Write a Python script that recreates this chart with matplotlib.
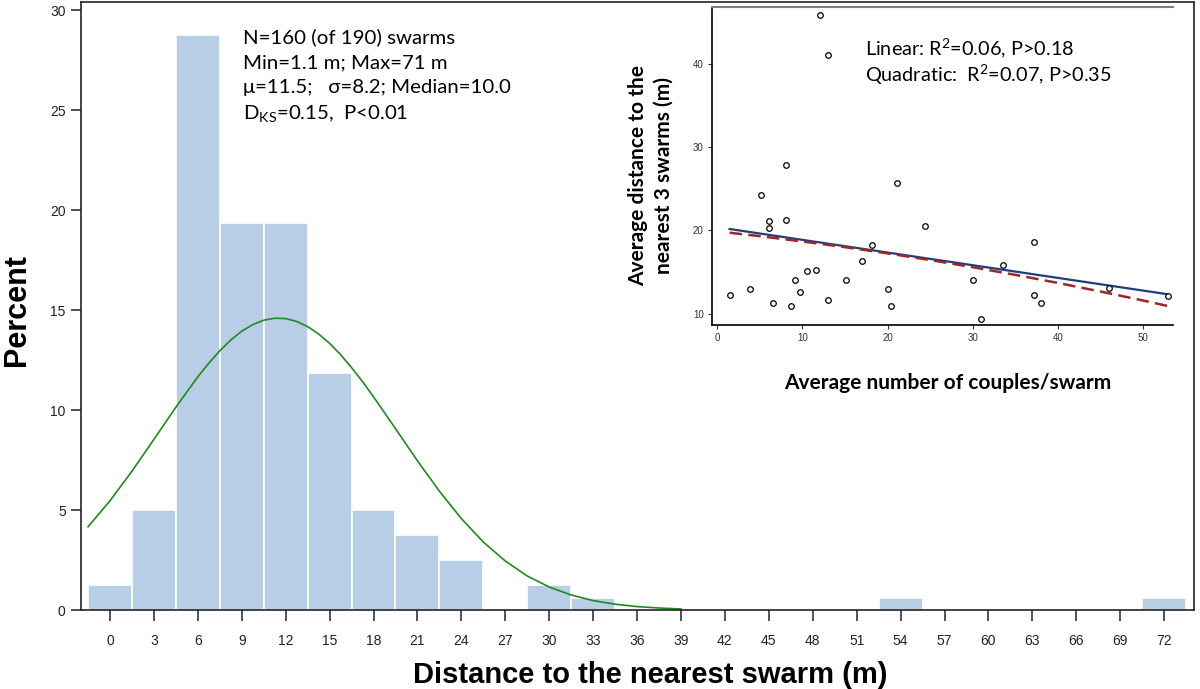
import numpy as np
import matplotlib.pyplot as plt

plt.rcParams['font.family'] = ['Liberation Sans', 'DejaVu Sans']
plt.rcParams['mathtext.fontset'] = 'custom'
plt.rcParams['mathtext.rm'] = 'Lato'
plt.rcParams['mathtext.it'] = 'Lato:italic'

# histogram: distance to the nearest swarm (percent of 160 swarms, 3 m bins)
bin_centers = [0, 3, 6, 9, 12, 15, 18, 21, 24, 30, 33, 54, 72]
percent = [1.25, 5.0, 28.75, 19.375, 19.375, 11.875, 5.0, 3.75, 2.5, 1.25, 0.625, 0.625, 0.625]
x_ticks = list(range(0, 73, 3))
y_ticks = [0, 5, 10, 15, 20, 25, 30]

# fitted normal curve
curve_x = [-1.5, 0, 1.5, 3, 4.5, 6, 6.75, 7.5, 8.25, 9, 9.75, 10.5, 11.25, 12, 12.75,
           13.5, 14.25, 15, 15.75, 16.5, 17.25, 18, 19.5,
           21, 22.5, 24, 25.5, 27, 28.5, 30, 31.5, 33, 34.5, 36, 37.5, 39]
curve_y = [4.16, 5.46, 6.94, 8.53, 10.14, 11.66, 12.34, 12.96, 13.50, 13.94, 14.27,
           14.49, 14.59, 14.57, 14.43, 14.17, 13.80, 13.33, 12.77, 12.12, 11.42,
           10.66, 9.07, 7.46, 5.94, 4.57, 3.40, 2.45, 1.70, 1.15,
           0.75, 0.47, 0.29, 0.17, 0.10, 0.05]

# inset: couples per swarm vs distance to the nearest 3 swarms
couples = [12.05, 13.04, 8.07, 21.1, 5.1, 6.07, 8.03, 6.07, 24.37, 18.2, 17.0,
           10.5, 11.6, 9.1, 15.1, 3.84, 20.0, 9.76, 1.45, 13.04, 6.58, 8.62, 20.4,
           37.2, 33.5, 30.05, 46.0, 37.2, 52.9, 37.96, 30.99]
dist3 = [45.9, 41.1, 27.8, 25.7, 24.2, 21.1, 21.2, 20.3, 20.5, 18.2, 16.3,
         15.1, 15.3, 14.05, 14.05, 12.97, 12.97, 12.64, 12.24, 11.68, 11.28, 10.96, 10.89,
         18.6, 15.9, 14.1, 13.1, 12.24, 12.16, 11.28, 9.36]
lin_x = [1.45, 52.9]
lin_y = [20.17, 12.33]
quad_x = [1.45, 5, 10, 15, 20, 25, 30, 35, 40, 45, 50, 52.9]
quad_y = [19.72, 19.31, 18.67, 17.99, 17.24, 16.44, 15.58, 14.66, 13.69, 12.66, 11.58, 10.92]

W, H = 1200, 689
fig = plt.figure(figsize=(12, 6.89), dpi=100)


def fx(px):
    return px / W


def fy(py):
    return 1 - py / H


ax = fig.add_axes([fx(81), fy(610), fx(1194 - 81), (610 - 2) / H])
ax.bar(bin_centers, percent, width=3, color='#b8cde6', edgecolor='white', linewidth=1.2)
ax.plot(curve_x, curve_y, color='#1e8a1e', lw=1.2)
ax.set_xlim(-1.98, 74.04)
ax.set_ylim(0, 30.4)
ax.set_xticks(x_ticks)
ax.set_yticks(y_ticks)
ax.tick_params(axis='x', length=8, width=1.1, pad=9, labelsize=10, colors='#222')
ax.tick_params(axis='y', length=7, width=1.1, pad=4, labelsize=10, colors='#222')
for s in ax.spines.values():
    s.set_color('#222')
    s.set_linewidth(1.2)

fig.text(fx(17), fy(310), 'Percent', rotation=90, fontsize=22, fontweight='bold',
         ha='center', va='center')
fig.text(fx(650), fy(675), 'Distance to the nearest swarm (m)', fontsize=21,
         fontweight='bold', ha='center', va='center')

stats = ['N=160 (of 190) swarms', 'Min=1.1 m; Max=71 m',
         'μ=11.5;   σ=8.2; Median=10.0', 'D$_{\\mathrm{KS}}$=0.15,  P<0.01']
for i, line in enumerate(stats):
    fig.text(fx(243), fy(37 + 25.5 * i), line, fontsize=14.7, family=['Lato', 'DejaVu Sans'],
             ha='left', va='center')

# inset
ins = fig.add_axes([fx(712), fy(325), fx(1173 - 712), (325 - 7.3) / H])
ins.plot(lin_x, lin_y, color='#1f3f7a', lw=1.6)
ins.plot(quad_x, quad_y, color='#a02525', lw=1.8, ls=(0, (5, 2.5)))
ins.scatter(couples, dist3, s=16, facecolors='white', edgecolors='black', linewidths=0.9, zorder=3)
ins.set_xlim(-0.62, 53.5)
ins.set_ylim(8.64, 46.8)
ins.set_xticks([0, 10, 20, 30, 40, 50])
ins.set_yticks([10, 20, 30, 40])
ins.tick_params(length=3, width=0.8, pad=3, labelsize=7, colors='#333')
ins.spines['right'].set_visible(False)
ins.spines['top'].set_color('#808080')
ins.spines['top'].set_linewidth(1.5)
ins.spines['left'].set_linewidth(1.2)
ins.spines['bottom'].set_linewidth(1.2)

fig.text(fx(865), fy(48), 'Linear: R$^2$=0.06, P>0.18', fontsize=14.3,
         family=['Lato', 'DejaVu Sans'], ha='left', va='center')
fig.text(fx(865), fy(75), 'Quadratic:  R$^2$=0.07, P>0.35', fontsize=14.3,
         family=['Lato', 'DejaVu Sans'], ha='left', va='center')
fig.text(fx(948), fy(383), 'Average number of couples/swarm', fontsize=15,
         fontweight='bold', family=['Lato', 'DejaVu Sans'], ha='center', va='center')
fig.text(fx(651), fy(176), 'Average distance to the\nnearest 3 swarms (m)', fontsize=15,
         fontweight='bold', family=['Lato', 'DejaVu Sans'], rotation=90,
         ha='center', va='center', linespacing=1.3, multialignment='center')

fig.savefig('out.png', dpi=100)
